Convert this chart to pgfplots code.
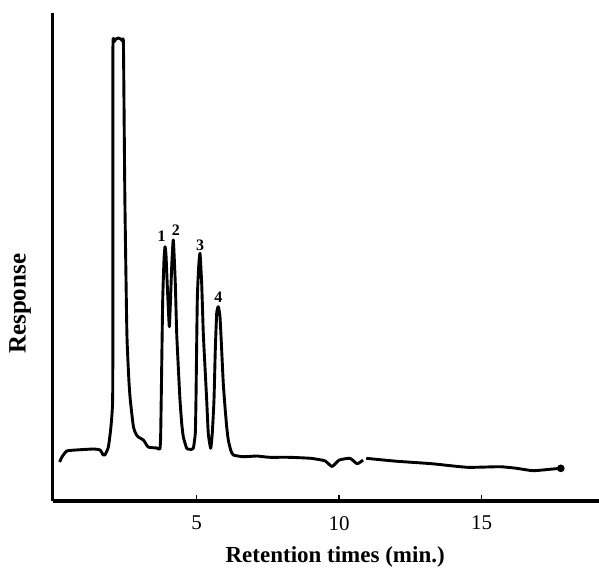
\documentclass[border=0pt]{standalone}
\usepackage{fontspec}
\setmainfont{Liberation Serif}
\usepackage{pgfplots}
\pgfplotsset{compat=1.18}
\begin{document}
\begin{tikzpicture}
\begin{axis}[
    scale only axis, width=273.1pt, height=244pt,
    xmin=-0.05, xmax=19.12, ymin=0, ymax=488,
    axis x line=bottom, axis y line=left,
    axis line style={-, line width=1.6pt},
    xtick={5,10,15}, ytick=\empty,
    tick align=inside, major tick length=3pt,
    tick style={line width=0.8pt, black},
    /pgf/number format/assume math mode=true,
    xticklabel style={font=\fontsize{10.5}{12}\selectfont, yshift=-4pt},
    xlabel={Retention times (min.)}, ylabel={Response},
    xlabel style={font=\fontsize{11.5}{13}\selectfont\bfseries,
        at={(axis description cs:0.517,-0.127)}, anchor=base},
    ylabel style={font=\fontsize{12.5}{14}\selectfont\bfseries,
        at={(axis description cs:-0.06,0.404)}, anchor=center},
    clip=false,
]
% detector trace, first part (up to the small break near 11 min)
\addplot[black, line width=1.45pt, line join=round, smooth, tension=0.3] coordinates {
(0.19,39) (0.27,44) (0.44,50) (0.75,51) (1.38,52) (1.61,51) (1.72,46) (1.78,46)
(1.90,54) (1.99,74) (2.05,101) (2.06,201) (2.06,451) (2.10,459) (2.17,462)
(2.25,463) (2.33,462) (2.40,460) (2.43,455) (2.48,301) (2.55,168) (2.62,121)
(2.67,101) (2.78,74) (2.87,67) (2.95,64) (3.13,61) (3.30,54) (3.60,53) (3.71,52)
(3.737,67.7) (3.772,134.3) (3.807,201) (3.853,241) (3.888,254.3) (3.923,246)
(3.975,211) (4.039,174.3) (4.081,201) (4.123,234.3) (4.179,261) (4.249,218)
(4.298,168) (4.354,134.3) (4.414,101) (4.474,77.7) (4.530,64.3) (4.649,52.7)
(4.765,51.7) (4.881,52.7) (4.951,67.7) (4.975,101) (5.021,201) (5.070,234.3)
(5.116,247.7) (5.175,217.7) (5.232,167.7) (5.291,134.3) (5.351,101) (5.407,67.7)
(5.491,52.7) (5.547,67.7) (5.607,101) (5.653,151) (5.702,187.7) (5.758,194.3)
(5.818,184.3) (5.877,151) (5.933,117.7) (5.993,94.3) (6.053,74.3) (6.109,61)
(6.193,51) (6.284,46) (6.635,44.3) (7.105,45) (7.337,44.3) (7.572,43.7)
(8.25,43.7) (9.00,42.7) (9.50,40.2) (9.75,34.5) (10.00,40.9) (10.38,42.7)
(10.63,37.3) (10.84,40.9)
};
% second part
\addplot[black, line width=1.45pt, line join=round, smooth, tension=0.3] coordinates {
(10.95,42.7) (12.00,39.8) (13.25,37.3) (14.50,33.7) (15.64,34.3) (16.23,32.7)
(16.80,30.3) (17.39,31.7) (17.78,32.7)
};
\addplot[black, only marks, mark=*, mark size=1.7pt] coordinates {(17.78,32.7)};
% peak numbers
\begin{scope}[font=\fontsize{8}{9}\selectfont\bfseries]
\node at (axis cs:3.77,265) {1};
\node at (axis cs:4.27,271) {2};
\node at (axis cs:5.12,256) {3};
\node at (axis cs:5.76,204) {4};
\end{scope}
\end{axis}
\pgfresetboundingbox
\path (-26.4pt,-37pt) rectangle (273.1pt,250.5pt);
\end{tikzpicture}
\end{document}
